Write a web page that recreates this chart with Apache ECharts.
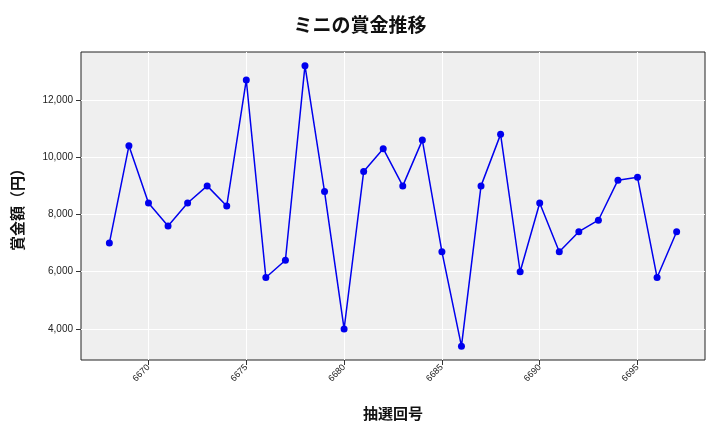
<!DOCTYPE html>
<html><head><meta charset="utf-8">
<script src="https://cdn.jsdelivr.net/npm/echarts@6/dist/echarts.min.js"></script>
<style>body{margin:0}#c{width:720px;height:432px}</style></head>
<body><div id="c"></div>
<script>
const draws = [6668,6669,6670,6671,6672,6673,6674,6675,6676,6677,6678,6679,6680,6681,6682,6683,6684,6685,6686,6687,6688,6689,6690,6691,6692,6693,6694,6695,6696,6697];
const prizes = [7000,10400,8400,7600,8400,9000,8300,12700,5800,6400,13200,8800,4000,9500,10300,9000,10600,6700,3400,9000,10800,6000,8400,6700,7400,7800,9200,9300,5800,7400];
const xTicks = [6670,6675,6680,6685,6690,6695];
const yTicks = [4000,6000,8000,10000,12000];
const font = '"Noto Sans CJK JP", sans-serif';
const chart = echarts.init(document.getElementById('c'));
chart.setOption({
  animation:false,
  title:{text:'ミニの賞金推移',left:'center',top:10,textStyle:{fontFamily:font,fontSize:19,fontWeight:'bold',color:'#111'}},
  grid:{left:81,right:15,top:52,bottom:72,backgroundColor:'#efefef',show:true,borderWidth:1,borderColor:'#222'},
  xAxis:{type:'value',min:6666.55,max:6698.45,name:'抽選回号',nameLocation:'middle',nameGap:46,
    nameTextStyle:{fontFamily:font,fontSize:15,fontWeight:'bold',color:'#111'},
    axisLine:{show:false},
    axisTick:{customValues:xTicks,lineStyle:{color:'#333'}},
    axisLabel:{customValues:xTicks,rotate:45,fontSize:9,margin:6,color:'#222',formatter:v=>String(v)},
    splitLine:{show:true,lineStyle:{color:'#fff',width:1}}},
  yAxis:{type:'value',min:2916,max:13678,name:'賞金額（円）',nameLocation:'middle',nameGap:56,
    nameTextStyle:{fontFamily:font,fontSize:15,fontWeight:'bold',color:'#111'},
    axisLine:{show:false},
    axisTick:{show:true,customValues:yTicks,lineStyle:{color:'#333'}},
    axisLabel:{customValues:yTicks,fontSize:10,color:'#222',formatter:v=>v.toLocaleString('en-US')},
    splitLine:{show:true,lineStyle:{color:'#fff',width:1}}},
  series:[{type:'line',data:draws.map((d,i)=>[d,prizes[i]]),color:'#0000ee',
    lineStyle:{width:1.5,color:'#0000ee'},symbol:'circle',symbolSize:7,itemStyle:{color:'#0000ee'}}]
});
</script></body></html>
